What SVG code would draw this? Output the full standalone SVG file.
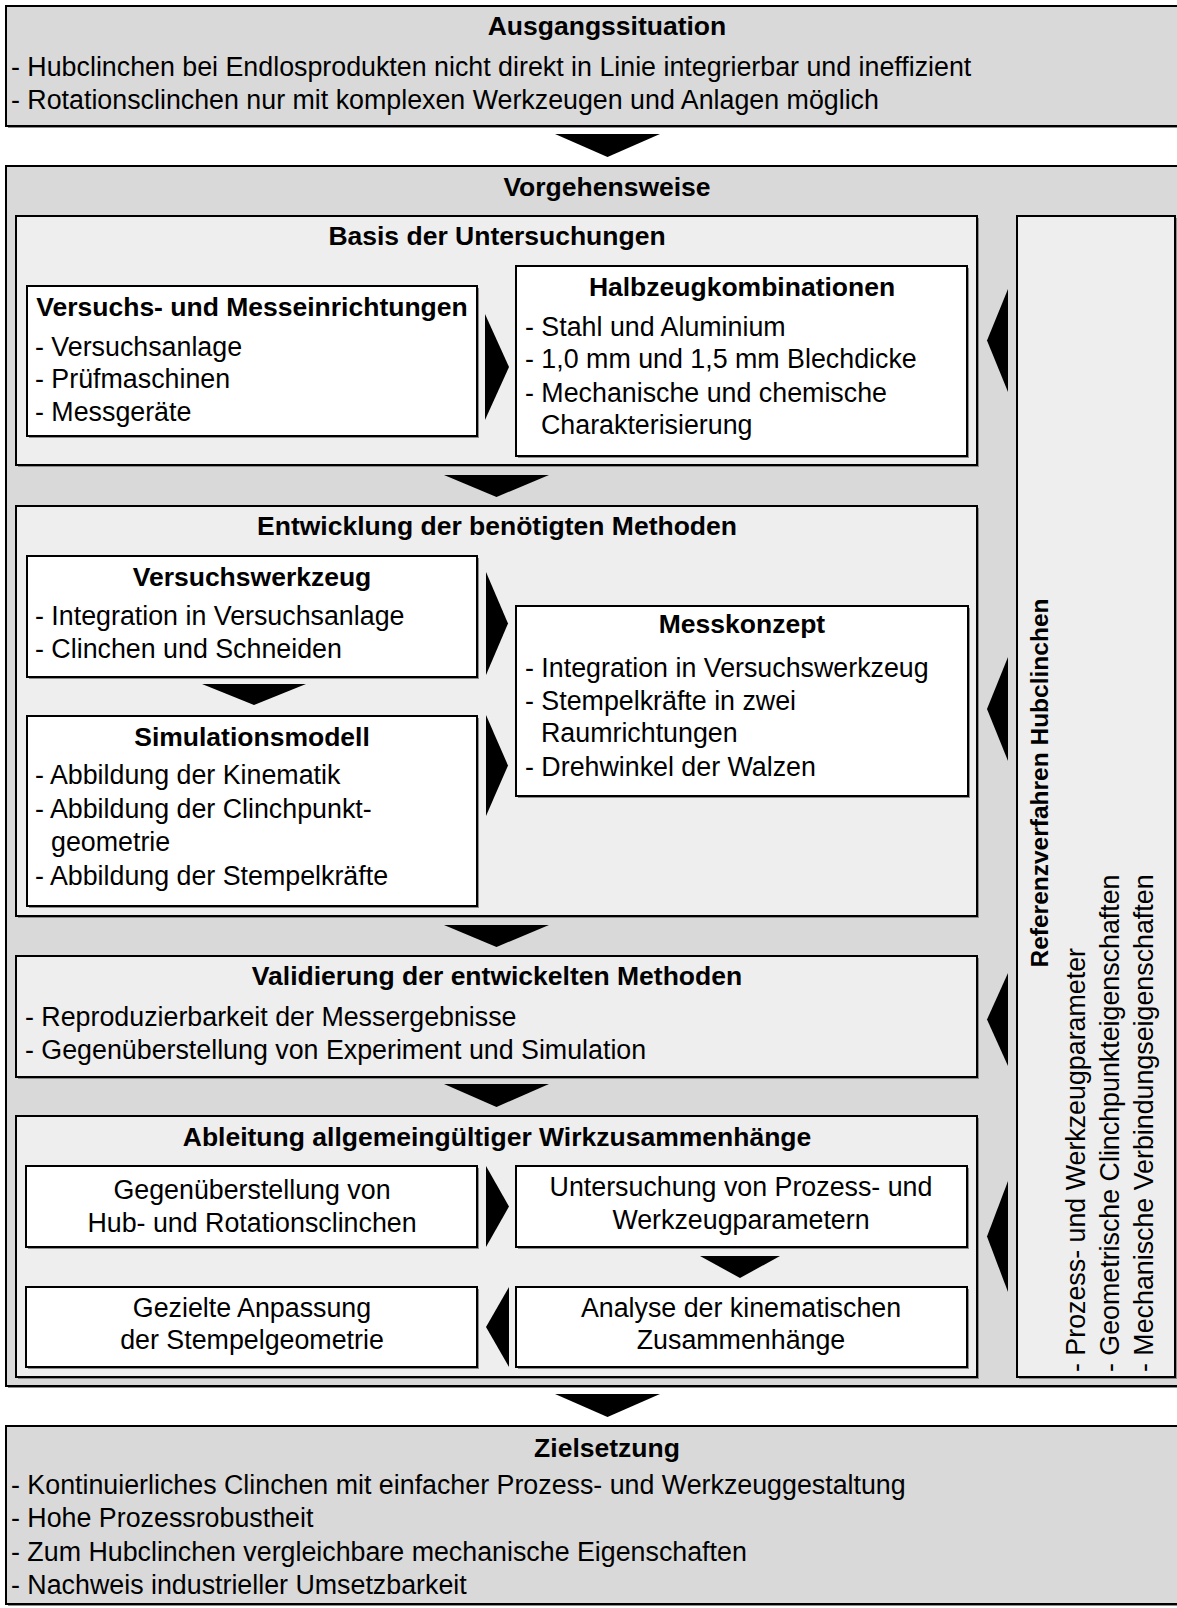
<svg xmlns="http://www.w3.org/2000/svg" width="1177" height="1608" viewBox="0 0 1177 1608">
<style>
.o{fill:#d9d9d9;stroke:#000;stroke-width:2}
.s{fill:#eeeeee;stroke:#000;stroke-width:2}
.w{fill:#ffffff;stroke:#000;stroke-width:2}
.sh{fill:#8c8c8c}
.a{fill:#000}
text{font-family:"Liberation Sans",Arial,sans-serif;font-size:26.8px;fill:#000}
.b{font-weight:bold;font-size:26.5px}
.c{text-anchor:middle}
</style>
<rect width="1177" height="1608" fill="#fff"/>
<g id="ausgangssituation">
<rect class="sh" x="8" y="8" width="1174" height="120"/>
<rect class="o" x="6" y="6" width="1174" height="120"/>
<text class="b c" x="607" y="35">Ausgangssituation</text>
<text x="11" y="76">- Hubclinchen bei Endlosprodukten nicht direkt in Linie integrierbar und ineffizient</text>
<text x="11" y="108.5">- Rotationsclinchen nur mit komplexen Werkzeugen und Anlagen möglich</text>
</g>
<g id="vorgehensweise">
<rect class="sh" x="8" y="168" width="1174" height="1220"/>
<rect class="o" x="6" y="166" width="1174" height="1220"/>
<text class="b c" x="607" y="196">Vorgehensweise</text>
</g>
<g id="basis">
<rect class="sh" x="18" y="218" width="961" height="249"/>
<rect class="s" x="16" y="216" width="961" height="249"/>
<text class="b c" x="497" y="245">Basis der Untersuchungen</text>
</g>
<g id="versuchseinrichtungen">
<rect class="sh" x="29" y="288" width="450" height="150"/>
<rect class="w" x="27" y="286" width="450" height="150"/>
<text class="b c" x="252" y="316">Versuchs- und Messeinrichtungen</text>
<text x="35" y="356">- Versuchsanlage</text>
<text x="35" y="388">- Prüfmaschinen</text>
<text x="35" y="421">- Messgeräte</text>
</g>
<g id="halbzeug">
<rect class="sh" x="518" y="268" width="451" height="190"/>
<rect class="w" x="516" y="266" width="451" height="190"/>
<text class="b c" x="742" y="296">Halbzeugkombinationen</text>
<text x="525" y="336">- Stahl und Aluminium</text>
<text x="525" y="368">- 1,0 mm und 1,5 mm Blechdicke</text>
<text x="525" y="402">- Mechanische und chemische</text>
<text x="541" y="434">Charakterisierung</text>
</g>
<g id="entwicklung">
<rect class="sh" x="18" y="508" width="961" height="410"/>
<rect class="s" x="16" y="506" width="961" height="410"/>
<text class="b c" x="497" y="535">Entwicklung der benötigten Methoden</text>
</g>
<g id="versuchswerkzeug">
<rect class="sh" x="29" y="558" width="450" height="121"/>
<rect class="w" x="27" y="556" width="450" height="121"/>
<text class="b c" x="252" y="586">Versuchswerkzeug</text>
<text x="35" y="625">- Integration in Versuchsanlage</text>
<text x="35" y="658">- Clinchen und Schneiden</text>
</g>
<g id="simulationsmodell">
<rect class="sh" x="29" y="718" width="450" height="190"/>
<rect class="w" x="27" y="716" width="450" height="190"/>
<text class="b c" x="252" y="746">Simulationsmodell</text>
<text x="35" y="784">- Abbildung der Kinematik</text>
<text x="35" y="818">- Abbildung der Clinchpunkt-</text>
<text x="51" y="851">geometrie</text>
<text x="35" y="885">- Abbildung der Stempelkräfte</text>
</g>
<g id="messkonzept">
<rect class="sh" x="518" y="608" width="452" height="190"/>
<rect class="w" x="516" y="606" width="452" height="190"/>
<text class="b c" x="742" y="633">Messkonzept</text>
<text x="525" y="677">- Integration in Versuchswerkzeug</text>
<text x="525" y="710">- Stempelkräfte in zwei</text>
<text x="541" y="742">Raumrichtungen</text>
<text x="525" y="776">- Drehwinkel der Walzen</text>
</g>
<g id="validierung">
<rect class="sh" x="18" y="958" width="961" height="121"/>
<rect class="s" x="16" y="956" width="961" height="121"/>
<text class="b c" x="497" y="985">Validierung der entwickelten Methoden</text>
<text x="25" y="1026">- Reproduzierbarkeit der Messergebnisse</text>
<text x="25" y="1059">- Gegenüberstellung von Experiment und Simulation</text>
</g>
<g id="ableitung">
<rect class="sh" x="18" y="1118" width="961" height="261"/>
<rect class="s" x="16" y="1116" width="961" height="261"/>
<text class="b c" x="497" y="1146">Ableitung allgemeingültiger Wirkzusammenhänge</text>
</g>
<g id="gegenueberstellung">
<rect class="sh" x="28" y="1168" width="451" height="81"/>
<rect class="w" x="26" y="1166" width="451" height="81"/>
<text class="c" x="252" y="1199">Gegenüberstellung von</text>
<text class="c" x="252" y="1232">Hub- und Rotationsclinchen</text>
</g>
<g id="untersuchung">
<rect class="sh" x="518" y="1168" width="451" height="81"/>
<rect class="w" x="516" y="1166" width="451" height="81"/>
<text class="c" x="741" y="1196">Untersuchung von Prozess- und</text>
<text class="c" x="741" y="1229">Werkzeugparametern</text>
</g>
<g id="gezielte">
<rect class="sh" x="28" y="1289" width="451" height="80"/>
<rect class="w" x="26" y="1287" width="451" height="80"/>
<text class="c" x="252" y="1317">Gezielte Anpassung</text>
<text class="c" x="252" y="1349">der Stempelgeometrie</text>
</g>
<g id="analyse">
<rect class="sh" x="518" y="1289" width="451" height="80"/>
<rect class="w" x="516" y="1287" width="451" height="80"/>
<text class="c" x="741" y="1317">Analyse der kinematischen</text>
<text class="c" x="741" y="1349">Zusammenhänge</text>
</g>
<g id="referenzverfahren">
<rect class="sh" x="1019" y="218" width="158" height="1161"/>
<rect class="s" x="1017" y="216" width="158" height="1161"/>
<text class="b c" transform="translate(1048,783) rotate(-90)" style="font-size:24.5px">Referenzverfahren Hubclinchen</text>
<text transform="translate(1085,1372) rotate(-90)">- Prozess- und Werkzeugparameter</text>
<text transform="translate(1119,1372) rotate(-90)">- Geometrische Clinchpunkteigenschaften</text>
<text transform="translate(1153,1372) rotate(-90)">- Mechanische Verbindungseigenschaften</text>
</g>
<g id="zielsetzung">
<rect class="sh" x="8" y="1428" width="1174" height="178"/>
<rect class="o" x="6" y="1426" width="1174" height="178"/>
<text class="b c" x="607" y="1457">Zielsetzung</text>
<text x="11" y="1494">- Kontinuierliches Clinchen mit einfacher Prozess- und Werkzeuggestaltung</text>
<text x="11" y="1527">- Hohe Prozessrobustheit</text>
<text x="11" y="1561">- Zum Hubclinchen vergleichbare mechanische Eigenschaften</text>
<text x="11" y="1594">- Nachweis industrieller Umsetzbarkeit</text>
</g>
<g id="connectors">
<polygon class="a" points="555,134 660,134 607.5,157"/>
<polygon class="a" points="444,475 549,475 496.5,497"/>
<polygon class="a" points="202,684 306,684 254,705"/>
<polygon class="a" points="444,925 549,925 496.5,947"/>
<polygon class="a" points="444,1084 549,1084 496.5,1107"/>
<polygon class="a" points="700,1256 780,1256 740,1278"/>
<polygon class="a" points="555,1394 660,1394 607.5,1417"/>
<polygon class="a" points="485,314 509,367 485,420"/>
<polygon class="a" points="486,572 508,623.5 486,675"/>
<polygon class="a" points="486,715 508,765.5 486,816"/>
<polygon class="a" points="486,1166 509,1206.5 486,1247"/>
<polygon class="a" points="509,1287 486,1327 509,1367"/>
<polygon class="a" points="1008,289 987,340.5 1008,392"/>
<polygon class="a" points="1008,657 987,709 1008,761"/>
<polygon class="a" points="1008,973 987,1019.5 1008,1066"/>
<polygon class="a" points="1008,1181 987,1236.5 1008,1292"/>
</g>
</svg>
